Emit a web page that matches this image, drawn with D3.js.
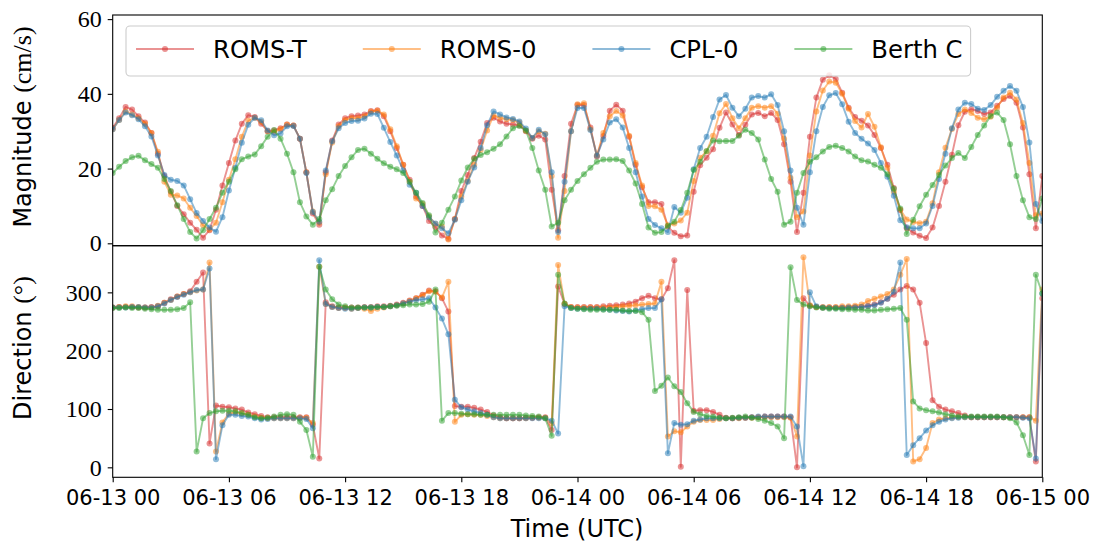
<!DOCTYPE html>
<html><head><meta charset="utf-8">
<script src="https://cdn.jsdelivr.net/npm/d3@7"></script>
<style>body{margin:0;background:#fff}svg{display:block}</style>
</head><body>
<svg id="c" width="1099" height="555"></svg>
<script>
// ---------- data ----------
const seriesNames  = ["ROMS-T", "ROMS-0", "CPL-0", "Berth C"];
const seriesColors = ["#d62728", "#ff7f0e", "#1f77b4", "#2ca02c"];
const magTicks = [0, 20, 40, 60];
const dirTicks = [0, 100, 200, 300];
const startUTC = Date.UTC(2021, 5, 13, 0, 0);   // 06-13 00 UTC
const stepMinutes = 20;

const magROMST = [30.9,33.5,36.5,35.8,34,32.3,29.5,24,18,13.8,10,7.8,5.5,3.6,1.5,3.5,9,15.5,21.5,27.5,32,34.3,33.8,32,30,30.2,30.8,31.8,31.5,28,19,8,5,19,27.5,31.8,33.5,34,34.2,34.5,35.4,35.6,34,30,25.5,21,17,12.5,
 10,6,4.3,2.1,1.2,6.5,14,18.3,22.8,27.2,32.2,33.6,32.6,32,31.8,31.6,30,28,28.8,27.8,14.3,3.5,18,32,37,37,31,23.2,28.7,35.5,37.1,35.5,28.5,21,15,11,11,10.5,4.4,2.8,1.9,2.1,13.8,20.9,22.9,25.2,30.9,35,
 31.8,29,31.7,34.5,34.9,34,34.9,33,26.5,16.5,3,13.5,28.5,39,43.8,45,44,40.3,36.3,33.8,32.8,31.5,29,25.5,21,14.8,8.9,4,2.9,2,1.4,4.2,10,16.5,23.7,31.6,35.2,35.9,35.4,34.6,35,36.8,38.6,39.4,37.6,31,18.5,4,18];
const magROMS0 = [30.5,33,35.3,34.5,33.5,32,29.5,24.5,16.5,13,12.8,12,9.5,7.3,4.8,3.7,5.5,11,17,22.5,28.5,32.8,33.6,32.5,30,29.8,30.5,31.8,31.5,28,19,8.5,5.5,18.5,27,31.3,33,33.5,33.5,34,35.2,35.5,34.5,30.5,26,21,16.5,12,
 10.5,7.2,5.2,4.5,1,6.5,12.5,16.7,21,25,30.2,34.2,33.6,33.2,33,32.3,30.2,28.2,30,29.3,18,1.5,14,30,37.2,37.5,30.5,23.5,29.5,34,35.4,34.2,28.8,21.5,15.5,10,9.9,9,4.8,5.3,6.1,8.2,16.7,22.9,24.6,28.8,34.8,37.3,
 33.5,30.8,33.5,36.3,36.7,36.3,36.7,34.7,28,17.5,7,8.5,23.5,35.3,40.9,43.3,43,40,36,32.7,31,34.6,31.2,25.7,20.2,13.8,9,6.4,5.7,5.4,5.8,10.7,19,25.6,30.6,34.6,35.8,34.9,33.6,33.2,33.9,36.3,39,40.3,38.5,32.2,21.5,7.5,8];
const magCPL0 = [30.5,33,35,34.3,33.2,31.3,28.6,23.5,18.3,17,16.7,15.5,11.8,8.1,6,4.2,3.1,7,14.1,20.2,26.9,31.7,33.6,32.9,30.2,28.9,29.4,31.3,31.4,28,18.8,8.4,5.8,19.5,27.3,30.8,32.2,32.7,32.8,33.4,34.7,34.6,30.9,27.1,23.5,19.5,15.7,13.5,
 10,7,5.3,4,2.7,6.3,11.5,16.5,20.3,25.5,31.6,35.3,34.5,33.7,33.3,32.6,30.7,28.2,30.4,29.2,19,3,16.5,30,36.2,36.2,30.3,23.4,27.8,32.3,33.2,31,25.5,19,12.5,6.5,4.9,4,3,9.7,8.2,12.2,19.8,25.5,28.5,33.8,38.5,39.7,
 36.3,34,36,39,39.4,39,39.9,37,30,19.5,9.5,5,19,30,36.5,39.6,40.2,37.2,32.5,29.5,28,26.7,25,21.5,17.8,12.7,6.2,4.3,4,4,5.3,10,17.2,24,30.8,35.8,37.6,37.3,36,35.7,37,39.2,40.8,42.1,40.8,36.5,27,10.5,6];
const magBerthC = [18.8,20.5,22,23,23.4,22.2,21.2,20.2,17.2,14,10.2,6.5,3,1.3,3.5,6.5,9.5,13.5,16.5,19.8,22.5,23.2,23.8,26,28.5,30.3,28,24,19,11,7.2,5,6.5,11.5,14.5,18,20.7,23,25,25.3,24,22.6,21.4,20.5,19.8,18.8,16.5,13.5,
 10.8,7.5,2.9,5.5,9,12.5,16.8,20.3,22.6,23.6,24.4,25.3,26.5,28.6,30.8,31.4,30.2,25.5,19.5,14.3,4.5,5.5,11.5,14.3,16.7,18.5,20.2,21.8,22.4,22.4,22.5,22,19.5,16,10.5,4.2,2.8,3,4.7,5.8,8.9,13.5,19.6,21.8,24.7,27.5,27.3,27.4,
 27.4,28.8,30.4,29.5,27.8,22.4,17.2,13.8,5,5.8,13.5,18.8,21.8,23,24.6,25.8,26.1,25.5,24.6,23.2,22.2,21.9,21,20.2,18.5,14.6,9.3,2.5,6.3,9.9,13,15.6,18.3,20.8,22.8,24.2,22.8,25.8,29,31.5,34.1,35,33,26.5,18,11.5,7,6.5,12];

const dirROMST = [274,275,275,275,274,274,275,276,282,288,293,297,302,318,334,41,106,104,103,101,99,94,91,88,86,86,86,86,86,86,86,73,15,283,276,274,274,274,274,275,275,276,276,277,279,282,286,290,
 296,303,302,290,267,105,104,104,102,99,95,89,86,84,84,84,85,85,86,86,64,310,280,275,275,275,275,275,276,277,278,279,281,284,290,294,290,288,307,355,1,304,97,98,98,95,90,85,
 84,85,85,86,86,87,87,87,87,86,0,290,277,275,274,274,274,274,274,275,275,277,279,283,289,296,305,311,305,282,213,115,104,99,96,93,89,86,86,86,86,86,86,86,86,86,86,10,290];
const dirROMS0 = [274,275,276,276,275,274,274,277,282,287,293,297,300,303,305,351,27,77,92,94,92,90,87,85,84,84,84,84,84,85,85,76,344,280,275,273,273,272,273,272,268,272,274,276,278,281,285,290,
 295,302,301,291,318,78,90,91,90,90,88,86,84,84,84,84,84,85,85,85,75,347,280,275,274,274,274,274,274,274,275,276,277,278,279,280,281,318,53,62,60,70,78,81,81,81,83,84,
 84,84,85,85,86,86,86,86,86,85,53,360,278,275,275,275,275,276,276,277,279,285,289,293,297,305,330,357,10,14,33,76,82,84,85,86,86,86,86,86,86,86,86,86,86,86,86,80,305];
const dirCPL0 = [274,274,274,275,275,274,274,276,281,287,292,296,300,304,305,341,14,72,90,90,88,87,84,82,83,84,84,84,84,84,83,67,355,280,275,273,272,272,273,274,274,275,275,276,278,281,284,287,
 288,290,274,255,228,116,103,99,96,93,90,86,84,84,84,84,84,84,84,84,80,58,276,273,272,272,272,272,271,270,269,268,267,269,271,273,273,288,24,76,73,74,80,82,84,84,84,84,
 84,85,85,86,87,87,87,87,87,87,70,2,300,276,274,273,273,273,274,274,275,276,278,282,289,301,351,21,38,50,63,72,78,82,84,85,86,86,86,86,86,86,86,86,86,85,84,15,298];
const dirBerthC = [273,273,274,273,273,272,271,270,270,270,271,273,283,27,84,93,96,97,97,96,93,90,86,84,85,87,90,91,90,78,64,18,344,305,288,279,276,274,274,274,274,275,275,276,277,278,279,279,
 280,284,305,80,93,93,92,91,91,90,90,90,90,90,90,90,89,88,87,84,54,330,281,273,272,271,270,270,270,270,270,269,268,268,266,253,131,140,154,139,129,110,95,91,88,87,85,84,
 85,86,87,85,83,80,76,70,50,343,287,279,276,274,273,272,272,271,271,270,270,269,269,270,271,272,273,253,113,101,98,96,94,91,89,87,87,87,87,87,87,87,86,84,77,55,21,330,298];

// ---------- layout ----------
const L = 112.7, R = 1042.3, magTop = 15, mid = 245.7, dirBot = 477.3;
const dotR = 3.0, lineW = 1.9;
const sampleTimes = d3.range(magROMST.length).map(i => new Date(startUTC + i * stepMinutes * 60000));

const svg = d3.select("#c");
svg.append("rect").attr("width", 1099).attr("height", 555).attr("fill", "#fff");

const x = d3.scaleUtc().domain([sampleTimes[0], sampleTimes[sampleTimes.length - 1]]).range([L, R]);
const yMag = d3.scaleLinear().domain([-0.64, 61.1]).range([mid, magTop]);
const yDir = d3.scaleLinear().domain([-17.1, 380]).range([dirBot, mid]);

const panels = [
  {id: "m", y: yMag, top: magTop, bot: mid, ticks: magTicks, data: [magROMST, magROMS0, magCPL0, magBerthC]},
  {id: "d", y: yDir, top: mid, bot: dirBot, ticks: dirTicks, data: [dirROMST, dirROMS0, dirCPL0, dirBerthC]}
];

const sans = "'DejaVu Sans', sans-serif", serif = "'Liberation Serif', 'DejaVu Serif', serif";
const defs = svg.append("defs");
panels.forEach(p => {
  defs.append("clipPath").attr("id", "clip-" + p.id)
    .append("rect").attr("x", L).attr("y", p.top).attr("width", R - L).attr("height", p.bot - p.top);

  const g = svg.append("g").attr("clip-path", `url(#clip-${p.id})`);
  p.data.forEach((vals, k) => {
    const line = d3.line().x((d, i) => x(sampleTimes[i])).y(d => p.y(d));
    g.append("path").attr("d", line(vals))
      .attr("fill", "none").attr("stroke", seriesColors[k])
      .attr("stroke-width", lineW).attr("stroke-opacity", 0.5).attr("stroke-linejoin", "round");
    g.selectAll(null).data(vals).enter().append("circle")
      .attr("cx", (d, i) => x(sampleTimes[i])).attr("cy", d => p.y(d)).attr("r", dotR)
      .attr("fill", seriesColors[k]).attr("fill-opacity", 0.5);
  });

  const ya = svg.append("g").attr("transform", `translate(${L},0)`)
    .call(d3.axisLeft(p.y).tickValues(p.ticks).tickSize(5).tickPadding(6).tickFormat(d3.format("d")));
  ya.select(".domain").remove();
  ya.selectAll("line").attr("stroke", "#000").attr("stroke-width", 1.1);
  ya.selectAll("text").attr("font-family", serif).attr("font-size", 24).attr("fill", "#000");

  svg.append("rect").attr("x", L).attr("y", p.top).attr("width", R - L).attr("height", p.bot - p.top)
    .attr("fill", "none").attr("stroke", "#000").attr("stroke-width", 1.1);
});

// x axis
const xa = svg.append("g").attr("transform", `translate(0,${dirBot})`)
  .call(d3.axisBottom(x).ticks(d3.utcHour.every(6)).tickFormat(d3.utcFormat("%m-%d %H")).tickSize(5).tickPadding(8));
xa.select(".domain").remove();
xa.selectAll("line").attr("stroke", "#000").attr("stroke-width", 1.1);
xa.selectAll("text").attr("font-family", sans).attr("font-size", 21).attr("fill", "#000");

// axis labels
function yLabel(cx, cy, main, math) {
  const t = svg.append("text").attr("transform", `translate(${cx},${cy}) rotate(-90)`)
    .attr("text-anchor", "middle").attr("font-size", 24).attr("fill", "#000");
  t.append("tspan").attr("font-family", sans).text(main + " ");
  t.append("tspan").attr("font-family", serif).attr("font-size", 26).text(math);
}
yLabel(31, 127, "Magnitude", "(cm/s)");
yLabel(31, 348, "Direction", "(°)");
svg.append("text").attr("x", 577).attr("y", 537).attr("text-anchor", "middle")
  .attr("font-family", sans).attr("font-size", 24).attr("fill", "#000").text("Time (UTC)");

// legend
const lg = svg.append("g");
const box = lg.append("rect").attr("x", 126).attr("y", 26).attr("height", 50).attr("rx", 4)
  .attr("fill", "#fff").attr("fill-opacity", 0.8).attr("stroke", "#cccccc").attr("stroke-width", 1.1);
let cx = 136;
const ly = 49, colGap = 56, fs = 24.3;
seriesNames.forEach((name, k) => {
  lg.append("line").attr("x1", cx).attr("x2", cx + 58).attr("y1", ly).attr("y2", ly)
    .attr("stroke", seriesColors[k]).attr("stroke-width", lineW).attr("stroke-opacity", 0.5);
  lg.append("circle").attr("cx", cx + 29).attr("cy", ly).attr("r", dotR)
    .attr("fill", seriesColors[k]).attr("fill-opacity", 0.5);
  const t = lg.append("text").attr("x", cx + 77).attr("y", ly).attr("dy", "0.36em")
    .attr("font-family", sans).attr("font-size", fs).attr("fill", "#000").text(name);
  const w = t.node().getComputedTextLength();
  cx = cx + 77 + w + colGap;
});
box.attr("width", (cx - colGap + 8) - 126);
</script>
</body></html>
